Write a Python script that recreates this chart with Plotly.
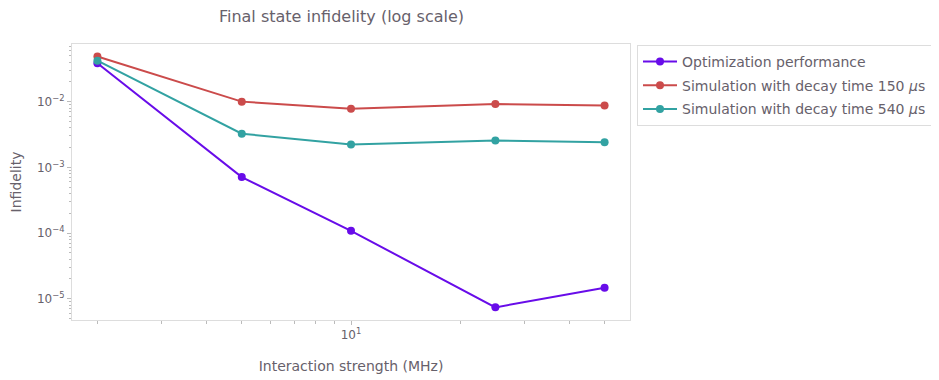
import plotly.graph_objects as go

interaction_mhz = [2, 5, 10, 25, 50]
optimization = [3.85e-2, 7.1e-4, 1.08e-4, 7.4e-6, 1.47e-5]
sim_150us = [4.85e-2, 1.0e-2, 7.8e-3, 9.2e-3, 8.7e-3]
sim_540us = [4.2e-2, 3.25e-3, 2.23e-3, 2.57e-3, 2.4e-3]

series_names = [
    "Optimization performance",
    "Simulation with decay time 150 <i>μ</i>s",
    "Simulation with decay time 540 <i>μ</i>s",
]
colors = ["#680CE9", "#CB4B4B", "#32A2A2"]

x_major = [10]
x_major_text = ["10<sup>1</sup>"]
x_minor = [2, 3, 4, 5, 6, 7, 8, 9, 20, 30, 40, 50]
y_major = [1e-5, 1e-4, 1e-3, 1e-2]
y_major_text = ["10<sup>−5</sup>", "10<sup>−4</sup>", "10<sup>−3</sup>", "10<sup>−2</sup>"]
y_minor = [m * 10.0 ** e for e in range(-6, 0) for m in range(2, 10)]

text_color = "#67616B"
font_family = "DejaVu Sans"

# page body has an 8px default margin; compensate so the figure lines up with the window
W, H = 931, 372
L, T, PW, PH = 64, 36, 558, 276

fig = go.Figure()
for i, (name, ys, c) in enumerate(zip(series_names, [optimization, sim_150us, sim_540us], colors)):
    fig.add_trace(go.Scatter(
        x=interaction_mhz, y=ys, name=name, mode="lines+markers", legendgroup=f"g{i}",
        line=dict(color=c, width=2), marker=dict(color=c, size=8),
    ))

fig.update_layout(
    width=W, height=H,
    margin=dict(l=L, r=W - L - PW, t=T, b=H - T - PH, autoexpand=False),
    paper_bgcolor="white", plot_bgcolor="white",
    font=dict(family=font_family, color=text_color, size=12),
    title=dict(text="Final state infidelity (log scale)", x=(341.5 - 8) / W, xanchor="center",
               y=1 - 8 / H, yanchor="middle", font=dict(size=16, color=text_color)),
    legend=dict(x=(637 - 72) / PW, xanchor="left", y=1 + (44 - 45) / PH, yanchor="top",
                bordercolor="#DDDDDD", borderwidth=1, bgcolor="white", itemwidth=34,
                font=dict(size=14, color=text_color), tracegroupgap=2.5),
    showlegend=True,
)

fig.update_xaxes(
    type="log", range=[0.231, 1.769],
    tickvals=x_major, ticktext=x_major_text,
    ticks="outside", ticklen=4, tickcolor="#BBBBBB",
    minor=dict(tickvals=x_minor, ticks="outside", ticklen=2.5, tickcolor="#BBBBBB", showgrid=False),
    showgrid=False, zeroline=False,
    showline=True, linecolor="#DDDDDD", linewidth=1, mirror=True,
    tickfont=dict(size=12, color=text_color),
    title=dict(text="Interaction strength (MHz)", font=dict(size=14, color=text_color), standoff=19),
)
fig.update_yaxes(
    type="log", range=[-5.323, -1.123],
    tickvals=y_major, ticktext=y_major_text,
    ticks="outside", ticklen=4, tickcolor="#BBBBBB",
    minor=dict(tickvals=y_minor, ticks="outside", ticklen=2.5, tickcolor="#BBBBBB", showgrid=False),
    showgrid=False, zeroline=False,
    showline=True, linecolor="#DDDDDD", linewidth=1, mirror=True,
    tickfont=dict(size=12, color=text_color),
    title=dict(text="Infidelity", font=dict(size=14, color=text_color), standoff=12),
)

fig.write_html("out.html")
